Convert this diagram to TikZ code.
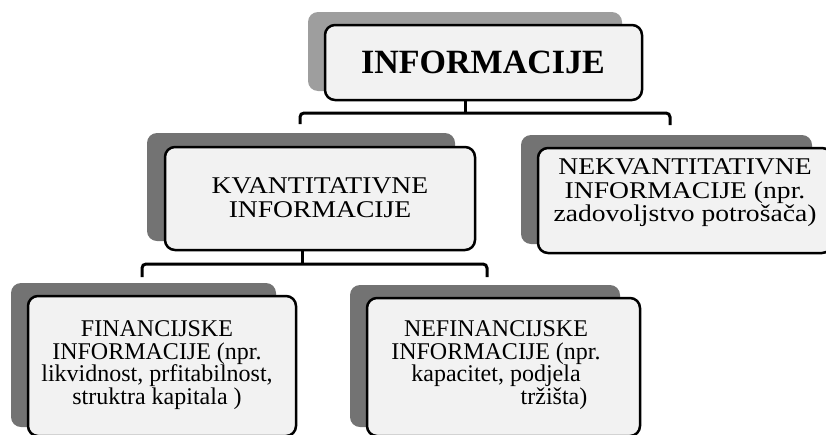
\documentclass[tikz,border=0pt]{standalone}
\usepackage{fontspec}
\setmainfont{Liberation Serif}
\newfontfamily\widefont[FakeStretch=1.15]{Liberation Serif}
\begin{document}
\begin{tikzpicture}[x=1pt,y=-1pt,
  frontbox/.style={draw=black, line width=2.5pt, fill=black!5, rounded corners=10pt, inner sep=0pt},
  shadowbox/.style={fill=black!55, rounded corners=10pt},
  lightshadow/.style={fill=black!38, rounded corners=10pt},
  conn/.style={draw=black, line width=3pt, rounded corners=4pt},
  txt/.style={align=center, inner sep=0pt}]
\useasboundingbox (0,0) rectangle (826,434);
% shadows
\fill[lightshadow] (308,12) rectangle (622,91);
\fill[shadowbox] (147,133) rectangle (455,241);
\fill[shadowbox] (521,135) rectangle (812,244);
\fill[shadowbox] (11,283) rectangle (276,427);
\fill[shadowbox] (350,285) rectangle (620,427);
% front boxes
\node[frontbox, minimum width=317pt, minimum height=75pt] (top) at (483.5,62.5) {};
\node[frontbox, minimum width=310pt, minimum height=103pt] (kv) at (320,198.5) {};
\node[frontbox, minimum width=294pt, minimum height=105pt] (nek) at (685,200.5) {};
\node[frontbox, minimum width=268pt, minimum height=140pt] (fin) at (162,366) {};
\node[frontbox, minimum width=273pt, minimum height=138pt] (nefin) at (503.5,367) {};
% texts
\node[txt, font=\fontsize{34}{40}\selectfont\bfseries] (t0) at (483,62) {INFORMACIJE};
\node[txt, font=\widefont\fontsize{24}{24}\selectfont] (t1) at (320,198) {KVANTITATIVNE\\INFORMACIJE};
\node[txt, font=\widefont\fontsize{24}{23.5}\selectfont] (t2) at (685,193) {NEKVANTITATIVNE\\INFORMACIJE (npr.\\zadovoljstvo potrošača)};
\node[txt, font=\fontsize{24}{22.7}\selectfont] (t3) at (157,365) {FINANCIJSKE\\INFORMACIJE (npr.\\likvidnost, prfitabilnost,\\struktra kapitala )};
\node[txt, font=\fontsize{24}{22.7}\selectfont] (t4) at (496,365) {NEFINANCIJSKE\\INFORMACIJE (npr.\\kapacitet, podjela\\\hspace*{116pt}tržišta)};
% connectors
\coordinate (j1) at (465,113);
\coordinate (c1) at (300,124);
\coordinate (c2) at (670,125);
\draw[conn] (top.south -| j1) -- (j1);
\draw[conn] (c1) |- (j1) -| (c2);
\coordinate (j2) at (302,264);
\coordinate (c3) at (142,277);
\coordinate (c4) at (487,277);
\draw[conn] (kv.south -| j2) -- (j2);
\draw[conn] (c3) |- (j2) -| (c4);
\end{tikzpicture}
\end{document}
